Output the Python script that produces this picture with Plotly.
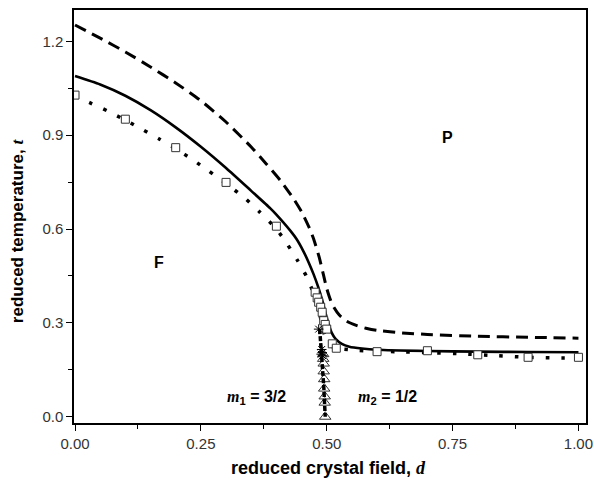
import plotly.graph_objects as go

# ---- data ----
dash_d = [0, 0.05, 0.10, 0.15, 0.20, 0.25, 0.30, 0.35, 0.38, 0.408, 0.434, 0.451, 0.465, 0.474, 0.485,
          0.494, 0.50, 0.507, 0.514, 0.525, 0.54, 0.56, 0.58, 0.60, 0.65, 0.70, 0.80, 0.90, 1.00]
dash_t = [1.252, 1.21, 1.166, 1.118, 1.067, 1.010, 0.942, 0.862, 0.808, 0.755, 0.697, 0.652, 0.605, 0.568, 0.51,
          0.45, 0.41, 0.375, 0.35, 0.325, 0.305, 0.291, 0.282, 0.276, 0.268, 0.263, 0.257, 0.254, 0.251]

solid_d = [0, 0.05, 0.10, 0.15, 0.20, 0.25, 0.30, 0.35, 0.388, 0.40, 0.428, 0.44, 0.454, 0.465, 0.474,
           0.483, 0.49, 0.497, 0.503, 0.51, 0.518, 0.53, 0.545, 0.57, 0.60, 0.70, 0.80, 0.90, 1.00]
solid_t = [1.089, 1.062, 1.026, 0.980, 0.925, 0.863, 0.795, 0.722, 0.666, 0.646, 0.594, 0.568, 0.528, 0.49, 0.455,
           0.415, 0.378, 0.335, 0.30, 0.268, 0.248, 0.233, 0.224, 0.218, 0.214, 0.21, 0.208, 0.207, 0.206]

dot_d = [0, 0.033, 0.065, 0.10, 0.136, 0.168, 0.20, 0.235, 0.266, 0.30, 0.337, 0.367, 0.40, 0.421,
         0.441, 0.459, 0.47, 0.478, 0.485, 0.49, 0.495, 0.50, 0.507, 0.515, 0.527, 0.563, 0.60, 0.636, 0.70,
         0.769, 0.839, 0.90, 0.968, 1.00]
dot_t = [1.025, 1.001, 0.977, 0.948, 0.916, 0.887, 0.857, 0.82, 0.785, 0.745, 0.699, 0.654, 0.60, 0.553,
         0.502, 0.451, 0.41, 0.375, 0.335, 0.30, 0.265, 0.243, 0.228, 0.221, 0.217, 0.212, 0.209, 0.208, 0.205,
         0.201, 0.195, 0.19, 0.188, 0.188]

sq_d = [0, 0.1, 0.2, 0.3, 0.4, 0.477, 0.481, 0.484, 0.488, 0.491, 0.494, 0.497, 0.50, 0.511, 0.519,
        0.6, 0.7, 0.8, 0.9, 1.0]
sq_t = [1.028, 0.951, 0.86, 0.749, 0.609, 0.398, 0.38, 0.366, 0.35, 0.334, 0.307, 0.295, 0.28, 0.233,
        0.219, 0.208, 0.211, 0.198, 0.19, 0.19]

tri_d = [0.493, 0.493, 0.494, 0.494, 0.495, 0.495, 0.496, 0.496, 0.497]
tri_t = [0.20, 0.185, 0.17, 0.145, 0.12, 0.09, 0.065, 0.045, 0.0]

ast_d = [0.484, 0.489, 0.490, 0.491, 0.492]
ast_t = [0.28, 0.20, 0.215, 0.205, 0.195]

vline_d = [0.486, 0.490, 0.494, 0.497]
vline_t = [0.28, 0.20, 0.10, 0.0]

x_ticks = [0, 0.25, 0.5, 0.75, 1.0]
y_ticks = [0.0, 0.3, 0.6, 0.9, 1.2]

fig = go.Figure()
fig.add_trace(go.Scatter(x=dash_d, y=dash_t, mode="lines",
                         line=dict(color="black", width=3, dash="12px,7px", shape="spline", smoothing=0.6)))
fig.add_trace(go.Scatter(x=solid_d, y=solid_t, mode="lines",
                         line=dict(color="black", width=2.6, shape="spline", smoothing=0.6)))
fig.add_trace(go.Scatter(x=dot_d, y=dot_t, mode="lines",
                         line=dict(color="black", width=3.5, dash="3.5px,12px", shape="spline", smoothing=0.6)))
fig.add_trace(go.Scatter(x=tri_d, y=tri_t, mode="markers",
                         marker=dict(symbol="triangle-up", size=10, color="white",
                                     line=dict(color="#333", width=1))))
fig.add_trace(go.Scatter(x=vline_d, y=vline_t, mode="lines",
                         line=dict(color="black", width=3.5, dash="5px,2px")))
fig.add_trace(go.Scatter(x=sq_d, y=sq_t, mode="markers",
                         marker=dict(symbol="square", size=8, color="white",
                                     line=dict(color="#333", width=1))))
fig.add_trace(go.Scatter(x=ast_d, y=ast_t, mode="markers",
                         marker=dict(symbol="asterisk-open", size=8, color="black",
                                     line=dict(color="black", width=1))))

serif = "Liberation Serif"
ann_font = dict(family="Liberation Sans", size=16, color="black")
fig.add_annotation(x=0.74, y=0.893, text="<b>P</b>", showarrow=False, font=ann_font)
fig.add_annotation(x=0.166, y=0.494, text="<b>F</b>", showarrow=False, font=ann_font)
fig.add_annotation(x=0.36, y=0.062, showarrow=False, font=ann_font,
                   text="<b><span style='font-family:%s'><i>m</i></span><sub>1</sub> = 3/2</b>" % serif)
fig.add_annotation(x=0.62, y=0.062, showarrow=False, font=ann_font,
                   text="<b><span style='font-family:%s'><i>m</i></span><sub>2</sub> = 1/2</b>" % serif)

# axis titles
fig.add_annotation(xref="paper", yref="paper", x=0.498, y=-0.109, showarrow=False,
                   xanchor="center", yanchor="middle",
                   font=dict(family="Liberation Sans", size=18, color="black"),
                   text="<b>reduced crystal field, <span style='font-family:%s'><i>d</i></span></b>" % serif)
fig.add_annotation(xref="paper", yref="paper", x=-0.109, y=0.465, showarrow=False,
                   xanchor="center", yanchor="middle", textangle=-90,
                   font=dict(family="Liberation Sans", size=17, color="black"),
                   text="<b>reduced temperature, <span style='font-family:%s'><i>t</i></span></b>" % serif)

axis_common = dict(showline=True, linecolor="black", linewidth=1.5, mirror=True,
                   ticks="outside", ticklen=6, tickwidth=1.2, tickcolor="black",
                   showgrid=False, zeroline=False, automargin=False,
                   tickfont=dict(family="Liberation Sans", size=15, color="#333"))

fig.update_xaxes(range=[-0.002, 1.015], tickvals=x_ticks, ticktext=["%.2f" % v for v in x_ticks],
                 minor=dict(ticks="outside", dtick=0.125, tick0=0, ticklen=4, tickcolor="black"),
                 **axis_common)
fig.update_yaxes(range=[-0.02, 1.30], tickvals=y_ticks, ticktext=["%.1f" % v for v in y_ticks],
                 minor=dict(ticks="outside", dtick=0.15, tick0=0, ticklen=4, tickcolor="black"),
                 **axis_common)

fig.update_layout(width=594, height=485, margin=dict(l=74, r=8, t=10, b=62),
                  plot_bgcolor="white", paper_bgcolor="white", showlegend=False)

fig.write_html("out.html", config={"displayModeBar": False},
               post_script="document.body.style.margin='0';document.body.style.overflow='hidden';"
                           "document.documentElement.style.overflow='hidden';")
